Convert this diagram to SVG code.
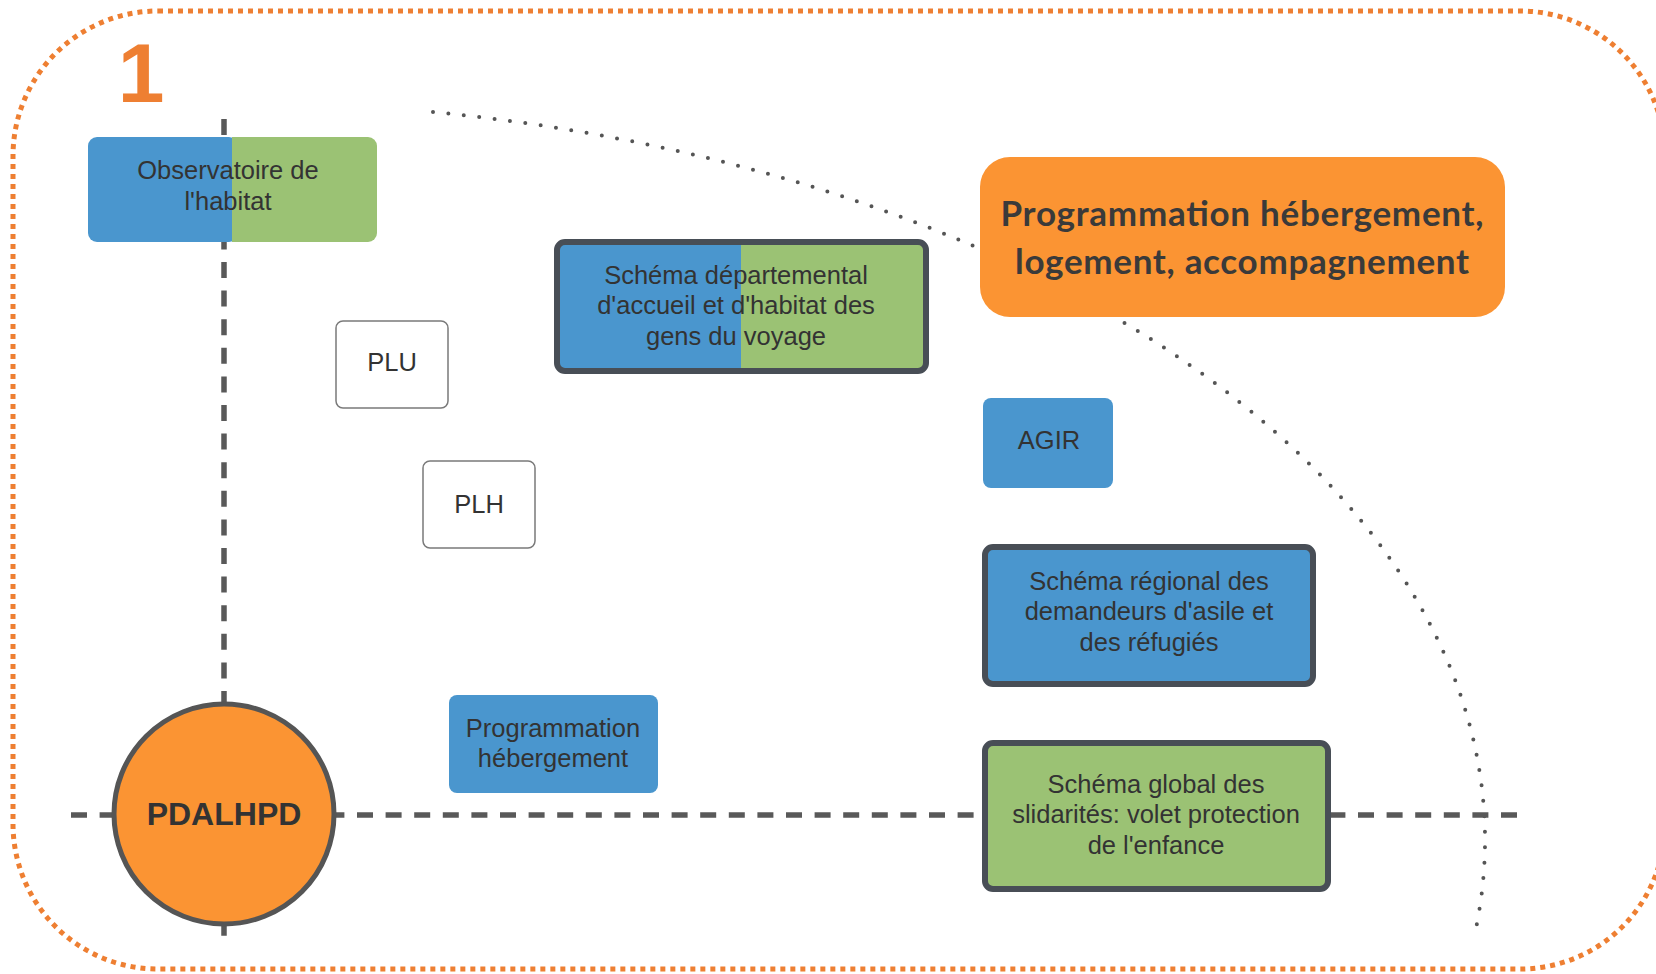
<svg xmlns="http://www.w3.org/2000/svg" width="1656" height="974" viewBox="0 0 1656 974">
  <style>
    .lbl { font-family: "Liberation Sans", Arial, sans-serif; font-size: 25.5px; fill: #333333; text-anchor: middle; }
    .title { font-family: Lato, "Open Sans", sans-serif; font-size: 35px; font-weight: bold; fill: #3A3A3A; text-anchor: middle; }
    .blue { fill: #4A96CE; }
    .green { fill: #9BC274; }
    .framed { fill: none; stroke: #484E56; stroke-width: 6; }
    .white { fill: #FFFFFF; stroke: #7A7A7A; stroke-width: 1.5; }
    .axis { fill: none; stroke: #595959; stroke-width: 5.5; stroke-dasharray: 16 12.6; }
  </style>

  <rect width="1656" height="974" fill="#FFFFFF"/>

  <!-- outer dotted frame -->
  <rect id="frame" x="13" y="11" width="1652" height="958" rx="145" ry="145" fill="none" stroke="#EE7F32" stroke-width="5" stroke-dasharray="5 5"/>

  <text id="number" x="141" y="102" font-family="Liberation Sans, Arial, sans-serif" font-size="84" font-weight="bold" fill="#EE7F32" text-anchor="middle">1</text>

  <g id="connectors">
    <!-- dotted boundary arc -->
    <path d="M 433 112 A 1258 738 0 0 1 1475 933" fill="none" stroke="#555555" stroke-width="4" stroke-linecap="round" stroke-dasharray="0 15.5"/>
    <!-- axes -->
    <line class="axis" x1="71" y1="815" x2="1523" y2="815"/>
    <line class="axis" x1="224" y1="119" x2="224" y2="937"/>
  </g>

  <g id="observatoire">
    <rect class="blue" x="88" y="137" width="150" height="105" rx="9"/>
    <rect class="green" x="232" y="137" width="145" height="105" rx="9"/>
    <rect class="green" x="232" y="137" width="20" height="105"/>
    <text class="lbl" x="228" y="179">Observatoire de</text>
    <text class="lbl" x="228" y="210">l'habitat</text>
  </g>

  <g id="schema-departemental">
    <rect class="blue" x="557" y="242" width="184" height="129" rx="8"/>
    <rect class="green" x="741" y="242" width="185" height="129" rx="8"/>
    <rect class="blue" x="730" y="242" width="11" height="129"/>
    <rect class="green" x="741" y="242" width="11" height="129"/>
    <rect class="framed" x="557" y="242" width="369" height="129" rx="8"/>
    <text class="lbl" x="736" y="284">Schéma départemental</text>
    <text class="lbl" x="736" y="314">d'accueil et d'habitat des</text>
    <text class="lbl" x="736" y="345">gens du voyage</text>
  </g>

  <g id="programmation-hla">
    <rect x="980" y="157" width="525" height="160" rx="30" fill="#FB9433"/>
    <text class="title" x="1242" y="226" textLength="483">Programmation hébergement,</text>
    <text class="title" x="1242" y="274" textLength="454">logement, accompagnement</text>
  </g>

  <g id="plu">
    <rect class="white" x="336" y="321" width="112" height="87" rx="7"/>
    <text class="lbl" x="392" y="371">PLU</text>
  </g>

  <g id="plh">
    <rect class="white" x="423" y="461" width="112" height="87" rx="7"/>
    <text class="lbl" x="479" y="513">PLH</text>
  </g>

  <g id="agir">
    <rect class="blue" x="983" y="398" width="130" height="90" rx="8"/>
    <text class="lbl" x="1049" y="449">AGIR</text>
  </g>

  <g id="schema-regional">
    <rect class="blue" x="985" y="547" width="328" height="137" rx="8"/>
    <rect class="framed" x="985" y="547" width="328" height="137" rx="8"/>
    <text class="lbl" x="1149" y="590">Schéma régional des</text>
    <text class="lbl" x="1149" y="620">demandeurs d'asile et</text>
    <text class="lbl" x="1149" y="651">des réfugiés</text>
  </g>

  <g id="programmation-hebergement">
    <rect class="blue" x="449" y="695" width="209" height="98" rx="8"/>
    <text class="lbl" x="553" y="737">Programmation</text>
    <text class="lbl" x="553" y="767">hébergement</text>
  </g>

  <g id="schema-global">
    <rect class="green" x="985" y="743" width="343" height="146" rx="8"/>
    <rect class="framed" x="985" y="743" width="343" height="146" rx="8"/>
    <text class="lbl" x="1156" y="793">Schéma global des</text>
    <text class="lbl" x="1156" y="823">slidarités: volet protection</text>
    <text class="lbl" x="1156" y="854">de l'enfance</text>
  </g>

  <g id="pdalhpd">
    <circle cx="224" cy="814" r="110" fill="#FB9433" stroke="#555555" stroke-width="5"/>
    <text x="224" y="825" font-family="Liberation Sans, Arial, sans-serif" font-size="32" font-weight="bold" fill="#333333" text-anchor="middle">PDALHPD</text>
  </g>
</svg>
